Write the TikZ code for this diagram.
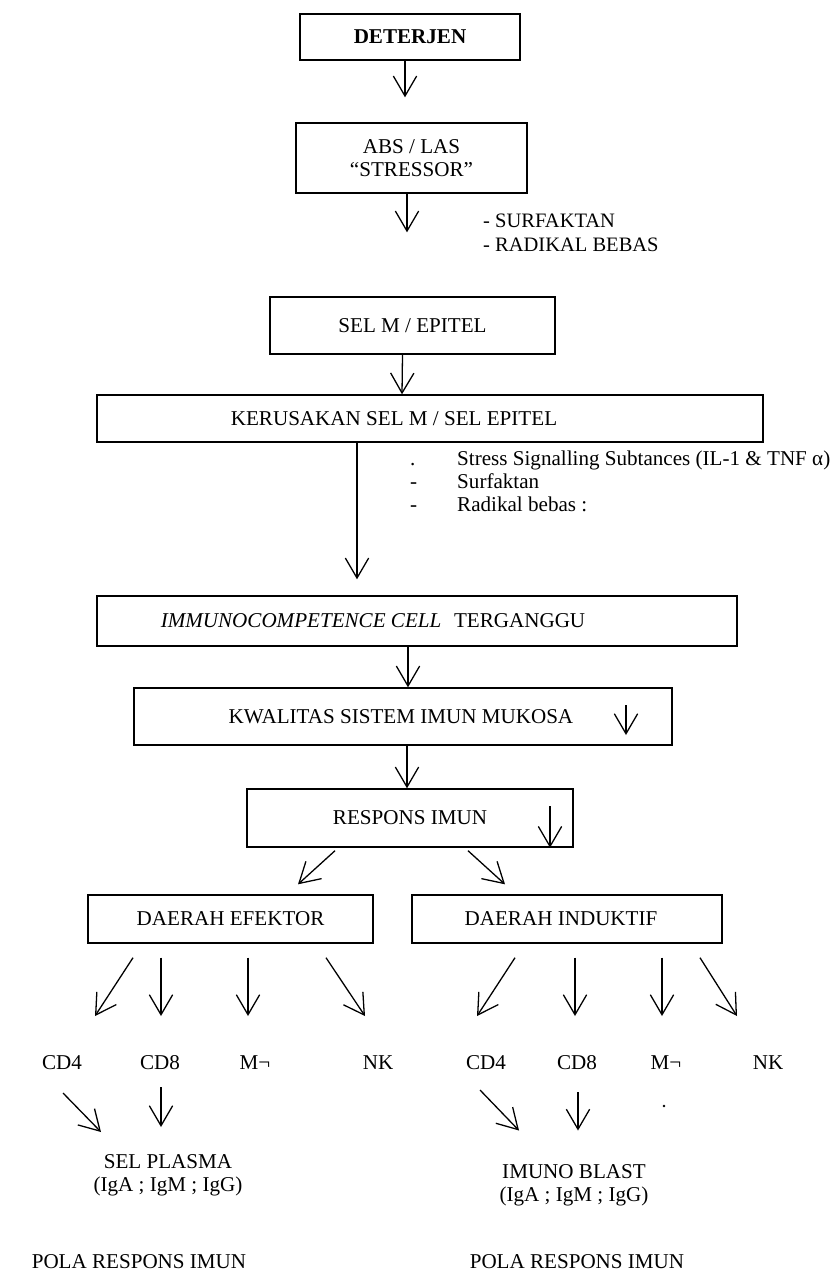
\documentclass[tikz,border=0pt]{standalone}
\usepackage{fontspec}
\setmainfont{Liberation Serif}
\usetikzlibrary{arrows.meta, calc, positioning}
\newcommand{\flowTip}{{Straight Barb[length=6mm, width=7mm]}}
\def\pxu{0.03cm}

\tikzset{
	box/.style={draw=black, line width=1.2pt, inner sep=0pt},
	lbl/.style={inner sep=0pt},
	flow/.style={-\flowTip, line width=1.1pt},
}

\begin{document}
\begin{tikzpicture}[x=0.03cm, y=-0.03cm, font=\fontsize{18}{19.6}\selectfont]
	\useasboundingbox (0,0) rectangle (835,1278);

	% upper chain
	\node[box, minimum width=220*\pxu, minimum height=46*\pxu, font=\fontsize{18}{20}\selectfont\bfseries] (deterjen) at (410,37) {DETERJEN};
	\node[box, minimum width=231*\pxu, minimum height=70*\pxu, align=center] (abs) at (411.5,158) {ABS / LAS\\“STRESSOR”};
	\node[box, minimum width=285*\pxu, minimum height=57*\pxu] (selm) at (412.5,325.5) {SEL M / EPITEL};
	\node[box, minimum width=666*\pxu, minimum height=47*\pxu] (kerusakan) at (430,418.5) {};
		\node[lbl] (kerusakanT) at ([xshift=-36*\pxu]kerusakan.center) {KERUSAKAN SEL M / SEL EPITEL};
	\node[box, minimum width=640*\pxu, minimum height=50*\pxu] (immuno) at (417,621) {};
		\node[lbl] (immunoT) at ([xshift=-44*\pxu]immuno.center) {\textit{IMMUNOCOMPETENCE CELL}\hspace{0.6em}TERGANGGU};
	\node[box, minimum width=538*\pxu, minimum height=57*\pxu] (kwalitas) at (403,716.5) {};
		\node[lbl] (kwalitasT) at ([xshift=-2*\pxu]kwalitas.center) {KWALITAS SISTEM IMUN MUKOSA};
	\node[box, minimum width=326*\pxu, minimum height=58*\pxu] (respons) at (410,818) {RESPONS IMUN};

	\node[lbl, anchor=west, align=left, font=\fontsize{17.5}{20.5}\selectfont] (surf) at (483,233) {- SURFAKTAN\\- RADIKAL BEBAS};
	\node[lbl, anchor=west, font=\fontsize{18}{19.5}\selectfont] (stress) at (410,484)
		{\begin{tabular}{@{}l@{\hspace{1.2cm}}l@{}}
			. & Stress Signalling Subtances (IL-1 \& TNF α)\\
			- & Surfaktan\\
			- & Radikal bebas :
		\end{tabular}};

	\draw[flow] ([xshift=-5*\pxu]deterjen.south) -- ([xshift=-6.5*\pxu, yshift=25*\pxu]abs.north);
	\draw[flow] ([xshift=-4.5*\pxu]abs.south) -- ([xshift=-5.5*\pxu, yshift=64*\pxu]selm.north);
	\draw[flow] ([xshift=-10*\pxu]selm.south) -- ([xshift=-28*\pxu]kerusakan.north);
	\draw[flow] ([xshift=-73*\pxu]kerusakan.south) -- ([xshift=-60*\pxu, yshift=16*\pxu]immuno.north);
	\draw[flow] ([xshift=-9*\pxu]immuno.south) -- ([xshift=5*\pxu]kwalitas.north);
	\draw[flow] ([xshift=4*\pxu]kwalitas.south) -- ([xshift=-3*\pxu]respons.north);
	% small down arrows inside the boxes
	\draw[flow] ([xshift=223*\pxu, yshift=11.5*\pxu]kwalitas.center) -- ([xshift=223*\pxu, yshift=-18.5*\pxu]kwalitas.center);
	\draw[flow] ([xshift=140*\pxu, yshift=12*\pxu]respons.center) -- ([xshift=140*\pxu]respons.south);

	% two regions
	\node[box, minimum width=285*\pxu, minimum height=48*\pxu] (efektor) at (230.5,919) {DAERAH EFEKTOR};
	\node[box, minimum width=310*\pxu, minimum height=48*\pxu] (induktif) at (567,919) {};
		\node[lbl] (induktifT) at ([xshift=-6*\pxu]induktif.center) {DAERAH INDUKTIF};

	\draw[flow] ([xshift=-75*\pxu, yshift=-3*\pxu]respons.south) -- ([xshift=67.5*\pxu, yshift=10*\pxu]efektor.north);
	\draw[flow] ([xshift=58*\pxu, yshift=-3*\pxu]respons.south) -- ([xshift=-62*\pxu, yshift=10*\pxu]induktif.north);

	% cells
	\node[lbl] (cd4L) at (62,1063) {CD4};
	\node[lbl] (cd8L) at (160,1063) {CD8};
	\node[lbl] (mL) at (255,1063) {M¬};
	\node[lbl] (nkL) at (378,1063) {NK};
	\node[lbl] (cd4R) at (486,1063) {CD4};
	\node[lbl] (cd8R) at (577,1063) {CD8};
	\node[lbl] (mR) at (666,1063) {M¬};
	\node[lbl] (nkR) at (768,1063) {NK};

	\foreach \src/\lab/\sa/\eb in {efektor/cd4L/-97.5/33, efektor/cd8L/-69.5/1, efektor/mL/17.5/-7, efektor/nkL/95.5/-13,
		induktif/cd4R/-52/-9, induktif/cd8R/8/-2, induktif/mR/95/-4, induktif/nkR/133/-31}
		\draw[flow] ([xshift=\sa*\pxu, yshift=-14*\pxu]\src.south) -- ([xshift=\eb*\pxu, yshift=47*\pxu]\lab.center);

	% products
	\node[lbl, align=center] (plasma) at (168,1175) {SEL PLASMA\\(IgA ; IgM ; IgG)};
	\node[lbl, align=center] (blast) at (574,1185.5) {IMUNO BLAST\\(IgA ; IgM ; IgG)};

	\draw[flow] ([xshift=1*\pxu, yshift=-30*\pxu]cd4L.center) -- ([xshift=-67*\pxu, yshift=43*\pxu]plasma.center);
	\draw[flow] ([xshift=1*\pxu, yshift=-24*\pxu]cd8L.center) -- ([xshift=-7*\pxu, yshift=48*\pxu]plasma.center);
	\draw[flow] ([xshift=-6*\pxu, yshift=-27*\pxu]cd4R.center) -- ([xshift=-55*\pxu, yshift=55*\pxu]blast.center);
	\draw[flow] ([xshift=1*\pxu, yshift=-29*\pxu]cd8R.center) -- ([xshift=4*\pxu, yshift=55*\pxu]blast.center);
	\fill (664,1106) circle (1.3);

	\node[lbl] (polaL) at (139,1262) {POLA RESPONS IMUN};
	\node[lbl] (polaR) at (577,1262) {POLA RESPONS IMUN};
\end{tikzpicture}
\end{document}
